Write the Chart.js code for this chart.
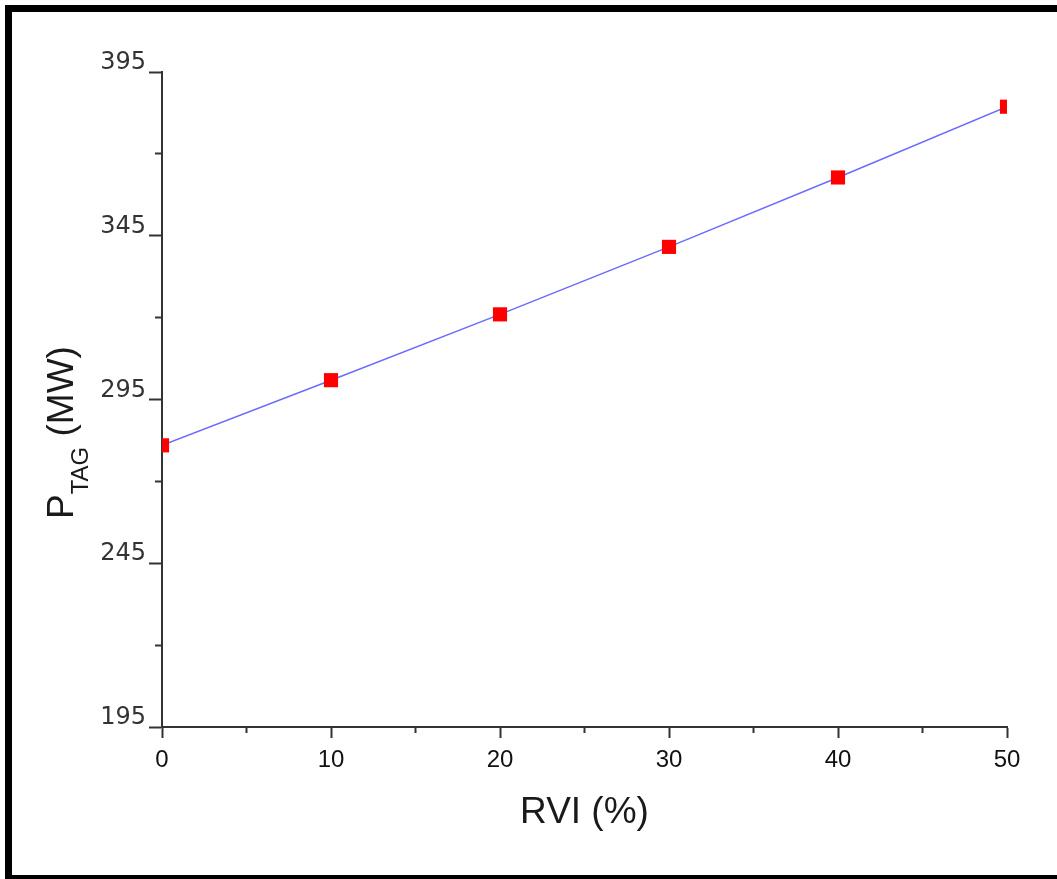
<!DOCTYPE html>
<html>
<head>
<meta charset="utf-8">
<script src="https://cdn.jsdelivr.net/npm/chart.js@4.4.1/dist/chart.umd.min.js"></script>
<style>
  html, body { margin: 0; padding: 0; background: #fff; }
  #wrap { position: relative; width: 1057px; height: 879px; overflow: hidden; }
  #frame {
    position: absolute; left: 5px; top: 5px; right: 0; bottom: 0;
    border-top: 7px solid #000; border-left: 7px solid #000; border-bottom: 4px solid #000;
    box-sizing: border-box; pointer-events: none;
  }
</style>
</head>
<body>
<div id="wrap">
  <canvas id="chart" width="1057" height="879"></canvas>
  <div id="frame"></div>
</div>
<script>
// data
const rviPercent = [0, 10, 20, 30, 40, 50];
const ptagMW = [281.0, 300.9, 321.0, 341.6, 362.8, 384.4];

// axis ticks
const xTicks = [0, 10, 20, 30, 40, 50];
const xMinorTicks = [5, 15, 25, 35, 45];
const yTicks = [195, 245, 295, 345, 395];
const yMinorTicks = [220, 270, 320, 370];

const xTitle = 'RVI (%)';
const yTitleMain = 'P';
const yTitleSub = 'TAG';
const yTitleUnit = ' (MW)';

const axisColor = '#333333';
const titleFont = '"Liberation Sans", Arial, sans-serif';

const setTicks = (list) => (scale) => {
    scale.ticks = list.map(v => ({ value: v }));
};

// y title has a subscript, so it is drawn here
const yTitlePlugin = {
    id: 'yTitle',
    afterDraw(chart) {
        const ctx = chart.ctx;
        const area = chart.chartArea;
        ctx.save();
        ctx.translate(area.left - 89, area.top + 447);
        ctx.rotate(-Math.PI / 2);
        ctx.fillStyle = '#1a1a1a';
        ctx.textBaseline = 'alphabetic';
        ctx.font = '37px ' + titleFont;
        ctx.fillText(yTitleMain, 0, 0);
        let w = ctx.measureText(yTitleMain).width;
        ctx.font = '24px ' + titleFont;
        ctx.fillText(yTitleSub, w, 15);
        w += ctx.measureText(yTitleSub).width;
        ctx.font = '37px ' + titleFont;
        ctx.fillText(yTitleUnit, w, 0);
        ctx.restore();
    }
};

new Chart(document.getElementById('chart'), {
    type: 'line',
    data: {
        datasets: [{
            data: rviPercent.map((x, i) => ({ x: x, y: ptagMW[i] })),
            borderColor: '#6b6bff',
            borderWidth: 1.5,
            pointStyle: 'rect',
            pointRadius: 10,
            pointBackgroundColor: '#ff0000',
            pointBorderWidth: 0,
            pointBorderColor: '#ff0000',
            tension: 0,
            clip: 0,
            xAxisID: 'x',
            yAxisID: 'y'
        }]
    },
    plugins: [yTitlePlugin],
    options: {
        responsive: false,
        animation: false,
        layout: { padding: { left: 0, top: 72, right: 50, bottom: 0 } },
        plugins: {
            legend: { display: false },
            tooltip: { enabled: false }
        },
        scales: {
            x: {
                type: 'linear',
                position: 'bottom',
                weight: 10,
                min: 0,
                max: 50,
                afterBuildTicks: setTicks(xTicks),
                afterFit: (scale) => { scale.height = 152; },
                grid: { drawOnChartArea: false, tickLength: 11, tickWidth: 2, tickColor: axisColor },
                border: { display: true, color: axisColor, width: 2 },
                ticks: {
                    color: '#111',
                    padding: 8,
                    maxRotation: 0,
                    font: { family: '"Liberation Sans", Arial, sans-serif', size: 24 }
                },
                title: {
                    display: true,
                    text: xTitle,
                    color: '#1a1a1a',
                    font: { family: titleFont, size: 37 },
                    padding: { top: 4, bottom: 44 }
                }
            },
            xMinor: {
                type: 'linear',
                position: 'bottom',
                weight: 0,
                min: 0,
                max: 50,
                afterBuildTicks: setTicks(xMinorTicks),
                afterFit: (scale) => { scale.height = 0; },
                grid: { drawOnChartArea: false, tickLength: 6, tickWidth: 2, tickColor: axisColor },
                border: { display: false },
                ticks: { display: false }
            },
            y: {
                type: 'linear',
                position: 'left',
                weight: 10,
                min: 195,
                max: 395,
                afterBuildTicks: setTicks(yTicks),
                afterFit: (scale) => { scale.width = 162; },
                grid: { drawOnChartArea: false, tickLength: 13, tickWidth: 2, tickColor: axisColor },
                border: { display: true, color: axisColor, width: 2 },
                ticks: {
                    color: '#333',
                    padding: 3,
                    labelOffset: -9,
                    font: { family: '"DejaVu Sans", Verdana, sans-serif', size: 24 }
                },
                title: { display: false }
            },
            yMinor: {
                type: 'linear',
                position: 'left',
                weight: 0,
                min: 195,
                max: 395,
                afterBuildTicks: setTicks(yMinorTicks),
                afterFit: (scale) => { scale.width = 0; },
                grid: { drawOnChartArea: false, tickLength: 7, tickWidth: 2, tickColor: axisColor },
                border: { display: false },
                ticks: { display: false }
            }
        }
    }
});
</script>
</body>
</html>
